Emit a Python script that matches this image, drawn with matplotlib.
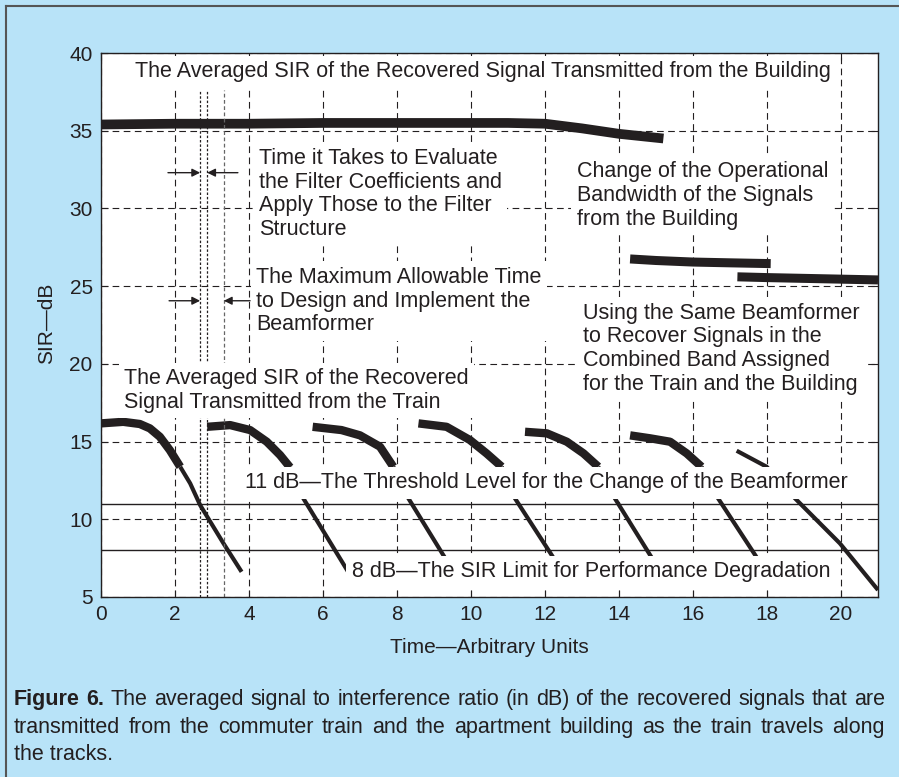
import matplotlib
matplotlib.use("Agg")
import matplotlib.pyplot as plt
from matplotlib.lines import Line2D

plt.rcParams['font.family'] = ['Liberation Sans', 'DejaVu Sans']

INK = '#231f20'
BG = '#b8e3f8'

# building SIR traces
bld1_x = [0.0, 2.0, 4.0, 6.0, 8.0, 10.0, 11.0, 12.0, 13.0, 14.0, 15.2]
bld1_y = [35.4, 35.45, 35.45, 35.5, 35.5, 35.5, 35.5, 35.45, 35.15, 34.8, 34.5]
bld2_x = [14.3, 15.0, 16.0, 17.0, 18.1]
bld2_y = [26.75, 26.65, 26.55, 26.5, 26.45]
bld3_x = [17.2, 18.0, 19.0, 20.0, 21.0]
bld3_y = [25.6, 25.55, 25.5, 25.45, 25.4]

# train SIR traces: noisy upper part, then the falling tail
train_head_x = [
    [0.0, 0.6, 1.05, 1.32, 1.59, 1.86, 2.14],
    [2.87, 3.49, 4.03, 4.48, 4.84, 5.11],
    [5.72, 6.5, 7.0, 7.54, 7.9],
    [8.58, 9.34, 9.97, 10.42, 10.83],
    [11.46, 12.05, 12.59, 13.04, 13.44],
    [14.3, 14.84, 15.38, 15.83, 16.23],
]
train_head_y = [
    [16.17, 16.27, 16.13, 15.85, 15.31, 14.45, 13.38],
    [15.95, 16.06, 15.74, 14.99, 14.13, 13.34],
    [15.95, 15.74, 15.4, 14.67, 13.38],
    [16.17, 15.95, 15.1, 14.24, 13.38],
    [15.63, 15.53, 14.99, 14.24, 13.38],
    [15.4, 15.21, 14.99, 14.24, 13.38],
]
train_tail_x = [
    [2.14, 2.41, 2.68, 3.31, 3.8],
    [5.11, 5.47, 6.68],
    [7.9, 8.31, 9.25, 9.53],
    [10.83, 11.19, 12.18, 12.46],
    [13.44, 13.89, 14.84, 15.12],
    [16.23, 16.68, 17.68, 17.96],
    [17.18, 17.99, 18.76, 19.97, 21.0],
]
train_tail_y = [
    [13.38, 12.31, 10.91, 8.45, 6.62],
    [13.34, 11.34, 6.62],
    [13.38, 11.34, 7.7, 6.62],
    [13.38, 11.34, 7.7, 6.62],
    [13.38, 11.34, 7.7, 6.62],
    [13.38, 11.34, 7.7, 6.62],
    [14.41, 13.38, 11.34, 8.45, 5.45],
]

threshold_levels = [11, 8]
marker_times = [2.68, 2.87, 3.32]

fig = plt.figure(figsize=(8.99, 7.77), dpi=100, facecolor=BG)
ax = fig.add_axes([101/899, 1-597/777, 777/899, 544/777])
ax.set_facecolor('white')

# frame round the figure
fig.add_artist(Line2D([6/899, 6/899], [0, 1-6/777], transform=fig.transFigure, color='#555555', lw=1.5))
fig.add_artist(Line2D([6/899, 1], [1-6/777, 1-6/777], transform=fig.transFigure, color='#555555', lw=1.5))

ax.set_xlim(0, 21)
ax.set_ylim(5, 40)
ax.set_xticks(range(0, 21, 2))
ax.set_yticks(range(5, 41, 5))
ax.grid(True, color=INK, linestyle=(0, (6, 4)), lw=0.8)
ax.tick_params(direction='in', length=5, top=True, right=True, labelsize=15, colors=INK, pad=6)
for s in ax.spines.values():
    s.set_color(INK)
    s.set_linewidth(1.0)

ax.plot(bld1_x, bld1_y, color=INK, lw=7, solid_capstyle='butt')
ax.plot(bld2_x, bld2_y, color=INK, lw=6.5, solid_capstyle='butt')
ax.plot(bld3_x, bld3_y, color=INK, lw=6.5, solid_capstyle='butt')

for hx, hy in zip(train_head_x, train_head_y):
    ax.plot(hx, hy, color=INK, lw=6, solid_capstyle='butt')
for tx, ty in zip(train_tail_x, train_tail_y):
    ax.plot(tx, ty, color=INK, lw=3, solid_capstyle='butt')

for lvl in threshold_levels:
    ax.axhline(lvl, color=INK, lw=1.0)

ax.plot([marker_times[0]] * 2, [5, 37.6], color=INK, lw=0.9, linestyle=(0, (2, 1.5)))
ax.plot([marker_times[1]] * 2, [5, 37.6], color=INK, lw=0.9, linestyle=(0, (2, 1.5)))
ax.plot([marker_times[2]] * 2, [5, 37.6], color='#666666', lw=0.9, linestyle=(0, (3, 2)))

arr = dict(arrowstyle='-|>', color=INK, lw=1.0, mutation_scale=12, shrinkA=0, shrinkB=0)
ax.annotate('', xy=(marker_times[0], 32.3), xytext=(1.81, 32.3), arrowprops=arr)
ax.annotate('', xy=(marker_times[1], 32.3), xytext=(3.70, 32.3), arrowprops=arr)
ax.annotate('', xy=(marker_times[0], 24.06), xytext=(1.84, 24.06), arrowprops=arr)
ax.annotate('', xy=(marker_times[2], 24.06), xytext=(4.03, 24.06), arrowprops=arr)

box = dict(facecolor='white', edgecolor='none', boxstyle='square,pad=0.25')
tkw = dict(fontsize=15.5, color=INK, bbox=box, zorder=5, linespacing=1.17, va='center')
ax.text(10.32, 38.8, 'The Averaged SIR of the Recovered Signal Transmitted from the Building', ha='center', **tkw)
ax.text(4.27, 30.93, 'Time it Takes to Evaluate\nthe Filter Coefficients and\nApply Those to the Filter\nStructure', ha='left', **tkw)
ax.text(4.19, 24.04, 'The Maximum Allowable Time\nto Design and Implement the\nBeamformer', ha='left', **tkw)
ax.text(12.86, 30.83, 'Change of the Operational\nBandwidth of the Signals\nfrom the Building', ha='left', **tkw)
ax.text(13.03, 20.98, 'Using the Same Beamformer\nto Recover Signals in the\nCombined Band Assigned\nfor the Train and the Building', ha='left', **tkw)
ax.text(0.62, 18.28, 'The Averaged SIR of the Recovered\nSignal Transmitted from the Train', ha='left', **tkw)
ax.text(3.89, 12.34, '11 dB\u2014The Threshold Level for the Change of the Beamformer', ha='left', **tkw)
ax.text(6.78, 6.62, '8 dB\u2014The SIR Limit for Performance Degradation', ha='left', **tkw)

ax.set_xlabel('Time\u2014Arbitrary Units', fontsize=15, color=INK)
ax.set_ylabel('SIR\u2014dB', fontsize=15, color=INK)
ax.xaxis.set_label_coords((489-101)/777, (597-638)/544)
ax.yaxis.set_label_coords((56-101)/777, (597-323)/544)

# caption, justified line by line
cap_lines = [
    [('Figure', 'bold'), ('6.', 'bold')] + [(w, 'normal') for w in
        'The averaged signal to interference ratio (in dB) of the recovered signals that are'.split()],
    [(w, 'normal') for w in
        'transmitted from the commuter train and the apartment building as the train travels along'.split()],
]
cap_base = [705, 733]
x0, x1 = 14, 885
renderer = fig.canvas.get_renderer()
for words, py in zip(cap_lines, cap_base):
    objs = [fig.text(0, 1-py/777, w, fontsize=15.5, fontweight=wt, color=INK, va='baseline', ha='left')
            for w, wt in words]
    widths = [o.get_window_extent(renderer).width for o in objs]
    gap = (x1 - x0 - sum(widths)) / (len(objs) - 1)
    x = x0
    for o, wd in zip(objs, widths):
        o.set_x(x/899)
        x += wd + gap
fig.text(14/899, 1-760/777, 'the tracks.', fontsize=15.5, color=INK, va='baseline', ha='left')

fig.savefig('out.png', dpi=100, facecolor=BG)
